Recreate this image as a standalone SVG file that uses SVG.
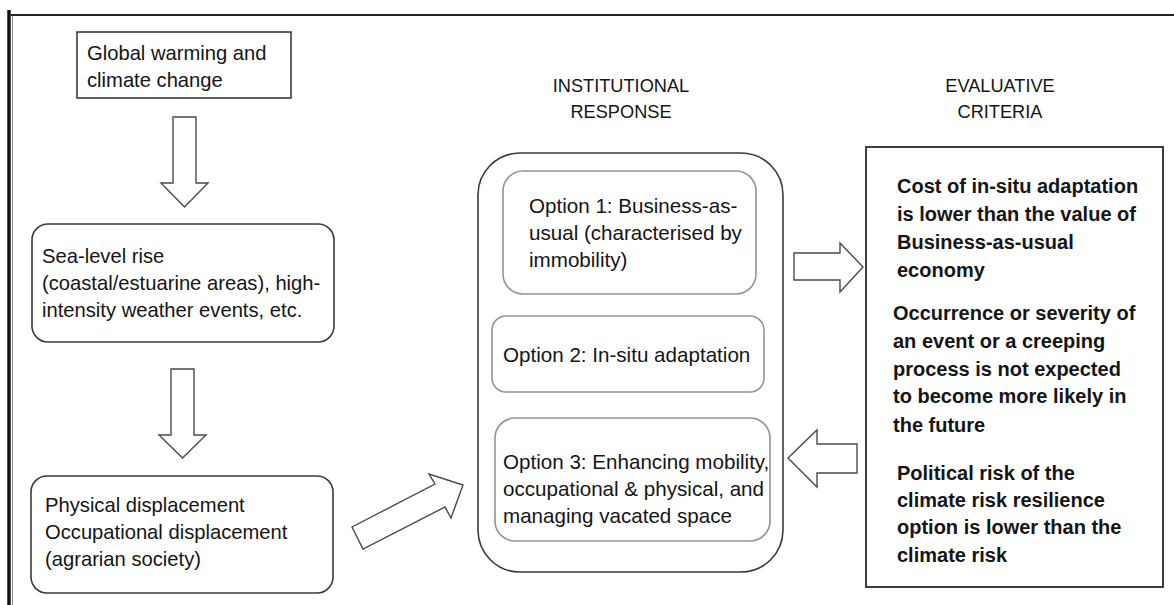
<svg xmlns="http://www.w3.org/2000/svg" width="1174" height="605" viewBox="0 0 1174 605">
  <style>
    text { font-family: "Liberation Sans", Arial, sans-serif; fill: #151515; }
    .t { font-size: 20.2px; }
    .opt { font-size: 20.6px; }
    .head { font-size: 18.2px; text-anchor: middle; }
    .crit { font-size: 20px; font-weight: bold; }
    .box { fill: #ffffff; stroke: #3a3a3a; stroke-width: 1.6; }
    .inner { fill: #ffffff; stroke: #8a96a2; stroke-width: 1.6; }
    .arrow { fill: #ffffff; stroke: #4a4a4a; stroke-width: 1.4; stroke-linejoin: miter; }
  </style>

  <rect width="1174" height="605" fill="#ffffff"/>

  <!-- page frame -->
  <g id="frame">
    <line x1="11" y1="15" x2="1174" y2="15" stroke="#222" stroke-width="2.2"/>
    <line x1="9" y1="10" x2="9" y2="605" stroke="#111" stroke-width="3.5"/>
    <line x1="12.5" y1="16" x2="12.5" y2="605" stroke="#888" stroke-width="1"/>
  </g>

  <!-- connectors: block arrows -->
  <g id="connectors">
    <polygon class="arrow" points="173,117 196,117 196,183 208,183 184.5,207 161,183 173,183"/>
    <polygon class="arrow" points="171,369 194,369 194,435 206,435 182.5,458 159,435 171,435"/>
    <polygon class="arrow" points="352,527 435,484 429,474 463,485 451,518 445,507 363,549"/>
    <polygon class="arrow" points="794,253 840,253 840,243 863,267 840,292 840,280 794,280"/>
    <polygon class="arrow" points="857,444 817,444 817,430 788,458 817,487 817,473 857,473"/>
  </g>

  <g id="global-warming">
    <rect class="box" x="77" y="32" width="214" height="66"/>
    <text class="t" x="87" y="60">Global warming and</text>
    <text class="t" x="87" y="87">climate change</text>
  </g>

  <g id="sea-level-rise">
    <rect class="box" x="32" y="224" width="302" height="118" rx="16"/>
    <text class="t" x="42" y="263">Sea-level rise</text>
    <text class="t" x="42" y="290">(coastal/estuarine areas), high-</text>
    <text class="t" x="42" y="317">intensity weather events, etc.</text>
  </g>

  <g id="displacement">
    <rect class="box" x="31" y="476" width="302" height="117" rx="16"/>
    <text class="t" x="45" y="512">Physical displacement</text>
    <text class="t" x="45" y="539">Occupational displacement</text>
    <text class="t" x="45" y="566">(agrarian society)</text>
  </g>

  <g id="institutional-response">
    <text class="head" x="621" y="92">INSTITUTIONAL</text>
    <text class="head" x="621" y="118">RESPONSE</text>
    <rect class="box" x="478" y="153" width="305" height="419" rx="42"/>
  </g>

  <g id="option-1">
    <rect class="inner" x="503" y="171" width="253" height="123" rx="20"/>
    <text class="opt" x="529" y="213">Option 1: Business-as-</text>
    <text class="opt" x="529" y="240">usual (characterised by</text>
    <text class="opt" x="529" y="267">immobility)</text>
  </g>

  <g id="option-2">
    <rect class="inner" x="492" y="316" width="272" height="76" rx="14"/>
    <text class="opt" x="503" y="362">Option 2: In-situ adaptation</text>
  </g>

  <g id="option-3">
    <rect class="inner" x="495" y="418" width="275" height="123" rx="20"/>
    <text class="opt" x="503" y="469">Option 3: Enhancing mobility,</text>
    <text class="opt" x="503" y="496">occupational &amp; physical, and</text>
    <text class="opt" x="503" y="523">managing vacated space</text>
  </g>

  <g id="evaluative-criteria">
    <text class="head" x="1000" y="92">EVALUATIVE</text>
    <text class="head" x="1000" y="118">CRITERIA</text>
    <rect x="866" y="147" width="297" height="440" fill="#ffffff" stroke="#2a2a2a" stroke-width="1.8"/>
    <text class="crit" x="897" y="193">Cost of in-situ adaptation</text>
    <text class="crit" x="897" y="221">is lower than the value of</text>
    <text class="crit" x="897" y="249">Business-as-usual</text>
    <text class="crit" x="897" y="277">economy</text>
    <text class="crit" x="893" y="320">Occurrence or severity of</text>
    <text class="crit" x="893" y="348">an event or a creeping</text>
    <text class="crit" x="893" y="376">process is not expected</text>
    <text class="crit" x="893" y="403">to become more likely in</text>
    <text class="crit" x="893" y="432">the future</text>
    <text class="crit" x="897" y="480">Political risk of the</text>
    <text class="crit" x="897" y="507">climate risk resilience</text>
    <text class="crit" x="897" y="534">option is lower than the</text>
    <text class="crit" x="897" y="562">climate risk</text>
  </g>
</svg>
